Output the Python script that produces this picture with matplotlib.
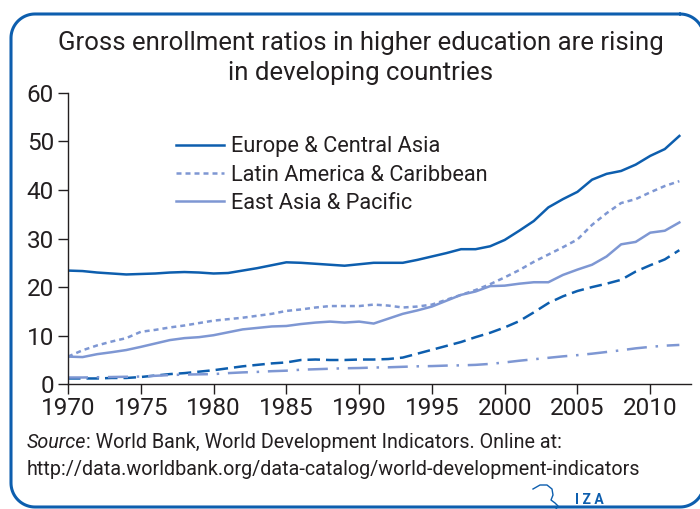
import matplotlib
matplotlib.use("Agg")
import matplotlib.pyplot as plt
import numpy as np

years = list(range(1970, 2013))

europe_central_asia = [23.4, 23.3, 23.0, 22.8, 22.6, 22.7, 22.8, 23.0, 23.1, 23.0,
                       22.8, 22.9, 23.4, 23.9, 24.5, 25.1, 25.0, 24.8, 24.6, 24.4,
                       24.7, 25.0, 25.0, 25.0, 25.6, 26.3, 27.0, 27.8, 27.8, 28.4,
                       29.7, 31.6, 33.6, 36.4, 38.1, 39.6, 42.1, 43.3, 43.9, 45.2,
                       47.0, 48.4, 51.1]
latin_america = [5.7, 7.0, 8.0, 8.8, 9.5, 10.8, 11.2, 11.7, 12.1, 12.6,
                 13.1, 13.4, 13.7, 14.1, 14.5, 15.1, 15.4, 15.8, 16.1, 16.1,
                 16.1, 16.4, 16.2, 15.8, 16.0, 16.4, 17.4, 18.4, 19.4, 20.6,
                 22.0, 23.5, 25.2, 26.7, 28.2, 29.8, 32.8, 35.2, 37.3, 38.1,
                 39.5, 40.8, 41.8]
east_asia = [5.7, 5.6, 6.2, 6.6, 7.05, 7.7, 8.4, 9.1, 9.5, 9.7,
             10.1, 10.7, 11.3, 11.6, 11.9, 12.0, 12.4, 12.7, 12.9, 12.7,
             12.9, 12.5, 13.5, 14.5, 15.2, 16.0, 17.2, 18.4, 19.1, 20.2,
             20.3, 20.7, 21.0, 21.0, 22.5, 23.6, 24.6, 26.3, 28.8, 29.3,
             31.2, 31.6, 33.3]
dashed_series = [1.2, 1.2, 1.2, 1.3, 1.3, 1.5, 1.8, 2.1, 2.3, 2.6,
                 2.9, 3.3, 3.7, 4.0, 4.3, 4.5, 5.0, 5.1, 5.0, 5.0,
                 5.1, 5.1, 5.2, 5.5, 6.3, 7.1, 7.9, 8.7, 9.7, 10.6,
                 11.7, 13.0, 14.8, 16.7, 18.1, 19.2, 20.0, 20.7, 21.5, 23.2,
                 24.5, 25.7, 27.6]
dashdot_series = [1.4, 1.4, 1.45, 1.5, 1.55, 1.6, 1.75, 1.9, 2.0, 2.05,
                  2.1, 2.3, 2.45, 2.55, 2.7, 2.8, 3.0, 3.1, 3.2, 3.3,
                  3.35, 3.45, 3.5, 3.6, 3.7, 3.75, 3.85, 3.9, 4.0, 4.2,
                  4.5, 4.85, 5.15, 5.45, 5.75, 6.0, 6.3, 6.65, 7.0, 7.4,
                  7.7, 7.95, 8.1]

xticks = [1970, 1975, 1980, 1985, 1990, 1995, 2000, 2005, 2010]
yticks = [0, 10, 20, 30, 40, 50, 60]

title = "Gross enrollment ratios in higher education are rising\nin developing countries"
labels = ["Europe & Central Asia", "Latin America & Caribbean", "East Asia & Pacific"]

DARK = "#0d5eae"
LIGHT = "#7e97d3"
TXT = "#231f20"

plt.rcParams['font.family'] = ['Roboto', 'DejaVu Sans']

fig = plt.figure(figsize=(7.0, 5.09), dpi=100)
W, H = 700, 509

# overlay in pixel units for the decorative frame and logo
deco = fig.add_axes([0, 0, 1, 1], zorder=0)
deco.set_xlim(0, W)
deco.set_ylim(H, 0)
deco.axis("off")


def rounded_frame(left, top, right, bottom, r, n=20):
    xs, ys = [], []
    corners = [(right - r, top + r, -90, 0), (right - r, bottom - r, 0, 90),
               (left + r, bottom - r, 90, 180), (left + r, top + r, 180, 270)]
    for cx, cy, a0, a1 in corners:
        t = np.radians(np.linspace(a0, a1, n))
        xs.extend(cx + r * np.cos(t))
        ys.extend(cy + r * np.sin(t))
    xs.append(xs[0])
    ys.append(ys[0])
    return xs, ys


fx, fy = rounded_frame(11, 14, 704, 507, 24)
deco.plot(fx, fy, color=DARK, lw=2.2, solid_capstyle="round")
# small bracket of the IZA logo
deco.plot([533, 540, 547, 552, 553, 551, 555, 558, 556],
          [489, 485, 485, 489, 495, 500, 503, 506, 509],
          color=DARK, lw=1.0)
deco.text(575, 504, "I Z A", ha="left", va="baseline",
          fontsize=10, fontweight="bold", color=DARK)

ax = fig.add_axes([68 / W, 1 - 384.3 / H, (691 - 68) / W, (384.3 - 92.7) / H],
                  zorder=1)
ax.patch.set_alpha(0)

lw = 1.8
ax.plot(years, europe_central_asia, color=DARK, lw=lw, label=labels[0])
ax.plot(years, latin_america, color=LIGHT, lw=lw, dashes=(2.0, 1.6), label=labels[1])
ax.plot(years, east_asia, color=LIGHT, lw=lw, label=labels[2])
ax.plot(years, dashed_series, color=DARK, lw=lw, dashes=(5.0, 2.4))
ax.plot(years, dashdot_series, color=LIGHT, lw=lw, dashes=(8.0, 3.5, 1.0, 3.5))

ax.set_xlim(1970, 2012.8)
ax.set_ylim(0, 60)
ax.set_xticks(xticks)
ax.set_yticks(yticks)
for s in ["top", "right"]:
    ax.spines[s].set_visible(False)
for s in ["left", "bottom"]:
    ax.spines[s].set_color(TXT)
    ax.spines[s].set_linewidth(1.0)
ax.tick_params(axis="both", colors=TXT, labelsize=17.5, length=7, width=1.0,
               direction="out", pad=2)
ax.tick_params(axis="y", pad=3)

leg = ax.legend(loc="upper left", bbox_to_anchor=(0.173, 0.85), frameon=False,
                fontsize=15.7, handlelength=2.2, handletextpad=0.35,
                labelspacing=0.33, borderpad=0, borderaxespad=0)
for t in leg.get_texts():
    t.set_color(TXT)

fig.text(361 / W, 1 - 31 / H, title, ha="center", va="top", fontsize=18.5,
         color=TXT, linespacing=1.32)

src = fig.text(27 / W, 1 - 448 / H, "Source", ha="left", va="baseline",
               fontsize=14.2, style="italic", color=TXT)
ax.annotate(": World Bank, World Development Indicators. Online at:",
            xy=(1, 0), xycoords=src, ha="left", va="bottom",
            fontsize=14.2, color=TXT, annotation_clip=False)
fig.text(27 / W, 1 - 475 / H,
         "http://data.worldbank.org/data-catalog/world-development-indicators",
         ha="left", va="baseline", fontsize=14.2, color=TXT)

fig.savefig("out.png", dpi=100)
